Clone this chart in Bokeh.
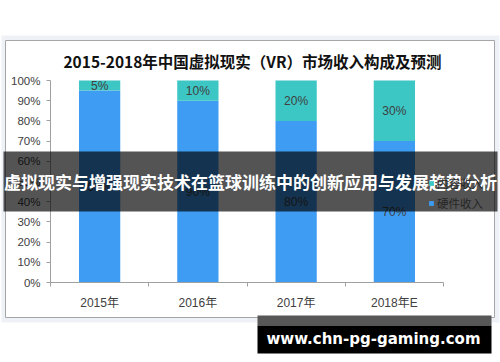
from bokeh.plotting import figure
from bokeh.models import (BoxAnnotation, Label, LabelSet, ColumnDataSource, FixedTicker,
                          NumeralTickFormatter, Legend, LegendItem, Range1d)
from bokeh.core.properties import value
from bokeh.embed import file_html
from bokeh.resources import INLINE

# ---- data ----
title_text = "2015-2018年中国虚拟现实（VR）市场收入构成及预测"
years = ["2015年", "2016年", "2017年", "2018年E"]
hardware = [0.95, 0.90, 0.80, 0.70]
content = [0.05, 0.10, 0.20, 0.30]
series_names = ["硬件收入", "内容收入"]
y_ticks = [0.0, 0.1, 0.2, 0.3, 0.4, 0.5, 0.6, 0.7, 0.8, 0.9, 1.0]
banner_text = "虚拟现实与增强现实技术在篮球训练中的创新应用与发展趋势分析"
site_text = "www.chn-pg-gaming.com"

# ---- styles / layout ----
BLUE = "#3e9cf2"
TEAL = "#3cc6c4"
AXIS = "#a0a0a0"
TXT = "#404040"
CJK = "Liberation Sans, Noto Sans CJK SC"
W, H = 500, 362
# pixel box of the value area (canvas coords, y down)
PX0, PX1, PY0, PY1 = 50, 443, 80, 282
n = len(years)
ux = (PX1 - PX0) / n
uy = (PY1 - PY0) / 1.0
x_range = Range1d(-PX0 / ux, n + (W - PX1) / ux)
y_range = Range1d(-(H - PY1) / uy, 1 + PY0 / uy)


def sx(X):
    return X


def sy(Y):
    return H - Y


def box(X0, X1, Y0, Y1, level="underlay", **kw):
    return BoxAnnotation(left=sx(X0), right=sx(X1), top=sy(Y0), bottom=sy(Y1),
                         left_units="screen", right_units="screen",
                         top_units="screen", bottom_units="screen",
                         level=level, **kw)


def label(X, Y, text, level="overlay", **kw):
    return Label(x=sx(X), y=sy(Y), x_units="screen", y_units="screen", text=text,
                 text_align="center", text_baseline="middle", level=level, **kw)


p = figure(width=W, height=H, x_range=x_range, y_range=y_range,
           output_backend="svg", toolbar_location=None, title=None,
           min_border=0, min_border_left=0, min_border_right=0,
           min_border_top=0, min_border_bottom=0)
p.outline_line_color = None
p.xgrid.visible = False
p.ygrid.visible = False
p.background_fill_color = "white"
p.border_fill_color = "white"

# panel frames
p.add_layout(box(1, 499, 35, 322, fill_color="#eef1f5", fill_alpha=1, line_color=None))
p.add_layout(box(5, 494, 40, 317, fill_color="white", fill_alpha=1,
                 line_color="#a6a6a6", line_width=1, line_alpha=1))

# bars
xs = [i + 0.5 for i in range(n)]
src = ColumnDataSource(dict(x=xs, hw=hardware, ct=content))
rs = p.vbar_stack(["hw", "ct"], x="x", width=0.42, source=src,
                  fill_color=[BLUE, TEAL], line_color=None)

# value labels
lab_x = xs + xs
lab_y = [h / 2 for h in hardware] + [h + c / 2 for h, c in zip(hardware, content)]
lab_t = [f"{round(v * 100)}%" for v in hardware + content]
p.add_layout(LabelSet(x="x", y="y", text="t",
                      source=ColumnDataSource(dict(x=lab_x, y=lab_y, t=lab_t)),
                      text_align="center", text_baseline="middle",
                      text_font_size="12px", text_color=TXT, text_font=value(CJK)))

# axes (drawn inside the full-canvas frame)
p.yaxis.fixed_location = 0
p.yaxis.bounds = (0, 1)
p.yaxis.ticker = FixedTicker(ticks=y_ticks)
p.yaxis.formatter = NumeralTickFormatter(format="0%")
p.yaxis.major_tick_out = 4
p.yaxis.major_tick_in = 0
p.yaxis.minor_tick_out = 0
p.yaxis.minor_tick_in = 0
p.yaxis.major_label_standoff = 6
p.yaxis.major_label_text_font_size = "11.5px"

p.xaxis.fixed_location = 0
p.xaxis.bounds = (0, n)
p.xaxis.ticker = FixedTicker(ticks=xs, minor_ticks=list(range(n + 1)))
p.xaxis.major_label_overrides = {x: y for x, y in zip(xs, years)}
p.xaxis.major_tick_out = 0
p.xaxis.major_tick_in = 0
p.xaxis.minor_tick_out = 4
p.xaxis.minor_tick_in = 0
p.xaxis.major_label_standoff = 9
p.xaxis.major_label_text_font_size = "12px"
for ax in (p.xaxis, p.yaxis):
    ax.axis_line_color = AXIS
    ax.major_tick_line_color = AXIS
    ax.minor_tick_line_color = AXIS
    ax.major_label_text_color = TXT
    ax.major_label_text_font = CJK

# legend
legend = Legend(items=[LegendItem(label=series_names[1], renderers=[rs[1]]),
                       LegendItem(label=series_names[0], renderers=[rs[0]])],
                location=(sx(428), sy(211)), padding=0, margin=0, spacing=4,
                glyph_width=6, glyph_height=6, label_standoff=3, label_height=14,
                label_text_font_size="11.5px", label_text_font=CJK, label_text_color="#262626",
                border_line_color=None, background_fill_alpha=0)
p.add_layout(legend)

# title
p.add_layout(label(252, 60, title_text, level="annotation", text_font_size="15.5px",
                   text_font_style="bold", text_color="#111111",
                   text_font="Noto Sans CJK SC"))

# banner overlay
p.add_layout(box(3, 497, 151, 211, level="overlay", fill_color="black",
                 fill_alpha=0.67, line_color=None))
p.add_layout(label(250, 181, banner_text, text_font_size="17px", text_font_style="bold",
                   text_color="white", text_font="Noto Sans CJK SC"))

# site box
p.add_layout(box(257, 491, 315, 325, level="overlay", fill_color="#575757",
                 fill_alpha=1, line_color=None))
p.add_layout(box(257, 491, 325, 353, level="overlay", fill_color="black",
                 fill_alpha=1, line_color=None))
p.add_layout(label(373, 338, site_text, text_font_size="15px", text_font_style="bold",
                   text_color="white", text_font="DejaVu Sans"))

open("out.html", "w").write(file_html(p, INLINE))
